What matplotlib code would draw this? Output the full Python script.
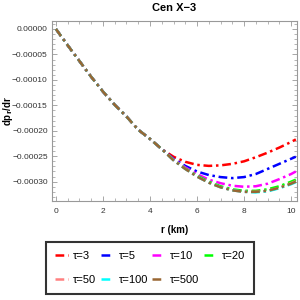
import matplotlib
matplotlib.use("Agg")
import matplotlib.pyplot as plt
from matplotlib.ticker import MultipleLocator, FuncFormatter

plt.rcParams['font.family'] = ['Liberation Sans', 'DejaVu Sans']

r = [0, 0.5, 1, 1.5, 2, 2.5, 3, 3.5, 4, 4.5, 5, 5.5, 6, 6.5, 7, 7.5, 8, 8.5, 9, 9.5, 10, 10.2]

common = [0, -0.000032, -0.000063, -0.000094, -0.000123, -0.000149, -0.000172,
          -0.000198, -0.000216, -0.000236]

tau3 = common + [-0.000251, -0.000261, -0.000267, -0.000269, -0.000268, -0.000265,
                 -0.000260, -0.000252, -0.000243, -0.000233, -0.000222, -0.000217]
tau5 = common + [-0.000255, -0.000269, -0.000280, -0.000287, -0.000291, -0.000293,
                 -0.000291, -0.000285, -0.000275, -0.000265, -0.000255, -0.000251]
tau10 = common + [-0.000256, -0.000272, -0.000285, -0.000296, -0.000303, -0.000308,
                  -0.000310, -0.000309, -0.000304, -0.000295, -0.000285, -0.000280]
tau20 = common + [-0.000257, -0.000274, -0.000288, -0.000300, -0.000309, -0.000315,
                  -0.000318, -0.000318, -0.000315, -0.000309, -0.000300, -0.000296]
tau50 = common + [-0.000258, -0.000275, -0.000290, -0.000302, -0.000311, -0.000317,
                  -0.000320, -0.000320, -0.000318, -0.000312, -0.000303, -0.000299]
tau100 = common + [-0.000258, -0.000275, -0.000290, -0.000302, -0.000311, -0.000317,
                   -0.000320, -0.000321, -0.000319, -0.000313, -0.000305, -0.000301]
tau500 = common + [-0.000258, -0.000275, -0.000290, -0.000302, -0.000311, -0.000317,
                   -0.000320, -0.000320, -0.000318, -0.000312, -0.000304, -0.000300]

labels = ["τ=3", "τ=5", "τ=10", "τ=20", "τ=50", "τ=100", "τ=500"]
series = [tau3, tau5, tau10, tau20, tau50, tau100, tau500]
colors = ["#ff0000", "#0000ff", "#ff00ff", "#00ff00", "#ff8080", "#00ffff", "#996633"]

fig = plt.figure(figsize=(3, 3), dpi=100)
ax = fig.add_axes([0.173, 0.33, 0.817, 0.60])

handles = []
for y, c, lab in zip(series, colors, labels):
    h, = ax.plot(r, y, color=c, lw=1.8, dashes=(3.5, 1.5, 1, 1.5), label=lab)
    handles.append(h)

ax.set_xlim(-0.17, 10.25)
ax.set_ylim(-0.000338, 0.0000157)
ax.xaxis.set_major_locator(MultipleLocator(2))
ax.xaxis.set_minor_locator(MultipleLocator(0.5))
ax.yaxis.set_major_locator(MultipleLocator(0.00005))
ax.yaxis.set_minor_locator(MultipleLocator(0.00001))
ax.yaxis.set_major_formatter(FuncFormatter(lambda v, p: ("%.5f" % v).replace("-", "\u2212") if abs(v) > 1e-12 else "0.00000"))
ax.tick_params(which='both', direction='in', top=True, right=True, colors='#999999',
               labelcolor='#333333', labelsize=6)
ax.tick_params(which='major', length=3.5, width=0.6)
ax.tick_params(which='minor', length=2, width=0.5)
ax.tick_params(axis='x', pad=5)
ax.tick_params(axis='y', pad=3)
for s in ax.spines.values():
    s.set_color('#999999')
    s.set_linewidth(0.8)

ax.set_title("Cen X\u22123", fontsize=8, fontweight='bold', pad=7)
ax.set_xlabel("r (km)", fontsize=7, fontweight='bold', labelpad=7)
ax.set_ylabel(r"dp$_\mathbf{r}$/dr", fontsize=7, fontweight='bold')
ax.yaxis.set_label_coords(-0.15, 0.5)

order = [0, 4, 1, 5, 2, 6, 3]
leg = fig.legend([handles[i] for i in order], [labels[i] for i in order],
                 loc='center', bbox_to_anchor=(0.5, 0.107), ncol=4, fontsize=8,
                 frameon=True, fancybox=False, handlelength=1.1, handletextpad=0.5,
                 columnspacing=0.4, labelspacing=1.3, borderpad=0.8, borderaxespad=0)
leg.get_frame().set_edgecolor('black')
leg.get_frame().set_linewidth(1.5)

fig.savefig("out.png", dpi=100)
